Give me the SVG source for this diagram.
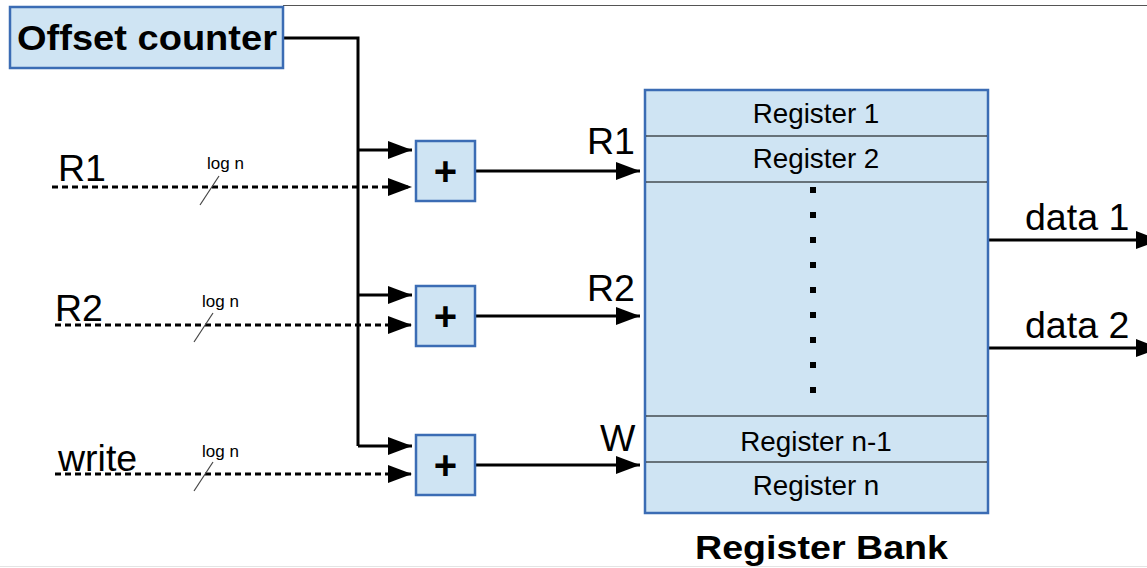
<svg xmlns="http://www.w3.org/2000/svg" width="1147" height="568" viewBox="0 0 1147 568">
<style>
.box{fill:#cfe4f3;stroke:#3b6cb4;stroke-width:2.5}
.ln{fill:none;stroke:#000;stroke-width:3}
.dash{fill:none;stroke:#000;stroke-width:3;stroke-dasharray:6 4}
.row{stroke:#000;stroke-width:1.2}
.t{font-family:"Liberation Sans",Arial,sans-serif;fill:#000}
.sl{stroke:#444;stroke-width:1.2}
.reg{font-size:27.8px}
.big{font-size:37.5px}
.plus{font-size:40px;font-weight:bold}
</style>
<defs>
<marker id="ah" markerWidth="8" markerHeight="6" refX="8" refY="3" orient="auto" markerUnits="strokeWidth">
<path d="M0,0 L8,3 L0,6 Z" fill="#000"/>
</marker>
</defs>
<rect width="1147" height="568" fill="#fff"/>
<line x1="283" y1="5.5" x2="1147" y2="5.5" stroke="#555" stroke-width="1.2"/>
<line x1="0" y1="566.5" x2="1147" y2="566.5" stroke="#e4e4e4" stroke-width="1"/>
<g id="connectors">
<polyline class="ln" points="283,38 358,38 358,446"/>
<line class="ln" x1="358" y1="150" x2="412" y2="150" marker-end="url(#ah)"/>
<line class="ln" x1="358" y1="295" x2="412" y2="295" marker-end="url(#ah)"/>
<polyline class="ln" points="358,446 412,446" marker-end="url(#ah)"/>
<line class="dash" x1="52" y1="187" x2="412" y2="187" marker-end="url(#ah)"/>
<line class="dash" x1="55" y1="325" x2="412" y2="325" marker-end="url(#ah)"/>
<line class="dash" x1="55" y1="474" x2="412" y2="474" marker-end="url(#ah)"/>
<line class="sl" x1="200" y1="205" x2="219" y2="176"/>
<line class="sl" x1="194" y1="342" x2="213" y2="313"/>
<line class="sl" x1="194" y1="491" x2="213" y2="462"/>
<line class="ln" x1="475" y1="171" x2="640" y2="171" marker-end="url(#ah)"/>
<line class="ln" x1="475" y1="316" x2="640" y2="316" marker-end="url(#ah)"/>
<line class="ln" x1="475" y1="465" x2="640" y2="465" marker-end="url(#ah)"/>
<line class="ln" x1="988" y1="240" x2="1160" y2="240" marker-end="url(#ah)"/>
<line class="ln" x1="988" y1="348" x2="1160" y2="348" marker-end="url(#ah)"/>
</g>
<g id="offset-counter">
<rect class="box" x="10" y="7" width="273" height="61"/>
<text class="t" x="17" y="50" font-size="35" font-weight="bold" textLength="260" lengthAdjust="spacingAndGlyphs">Offset counter</text>
</g>
<g id="labels">
<text class="t big" x="58" y="181">R1</text>
<text class="t big" x="55" y="321">R2</text>
<text class="t big" x="58" y="471">write</text>
<text class="t" x="207" y="169" font-size="17">log n</text>
<text class="t" x="202" y="307" font-size="17">log n</text>
<text class="t" x="202" y="457" font-size="17">log n</text>
<text class="t big" x="587" y="154">R1</text>
<text class="t big" x="587" y="301">R2</text>
<text class="t big" x="600" y="451">W</text>
<text class="t big" x="1025" y="230">data 1</text>
<text class="t big" x="1025" y="338">data 2</text>
</g>
<g id="adder1">
<rect class="box" x="416" y="141" width="59" height="60"/>
<text class="t plus" x="445.5" y="185" text-anchor="middle">+</text>
</g>
<g id="adder2">
<rect class="box" x="416" y="286" width="59" height="60"/>
<text class="t plus" x="445.5" y="330" text-anchor="middle">+</text>
</g>
<g id="adder3">
<rect class="box" x="416" y="435" width="59" height="60"/>
<text class="t plus" x="445.5" y="479" text-anchor="middle">+</text>
</g>
<g id="register-bank">
<rect class="box" x="645" y="90" width="343" height="423"/>
<line class="row" x1="646" y1="136" x2="987" y2="136"/>
<line class="row" x1="646" y1="182" x2="987" y2="182"/>
<line class="row" x1="646" y1="416" x2="987" y2="416"/>
<line class="row" x1="646" y1="462" x2="987" y2="462"/>
<text class="t reg" x="816" y="123" text-anchor="middle">Register 1</text>
<text class="t reg" x="816" y="168" text-anchor="middle">Register 2</text>
<text class="t reg" x="816" y="451" text-anchor="middle">Register n-1</text>
<text class="t reg" x="816" y="495" text-anchor="middle">Register n</text>
<g fill="#000">
<rect x="810" y="187" width="6" height="6"/>
<rect x="810" y="212" width="6" height="6"/>
<rect x="810" y="237" width="6" height="6"/>
<rect x="810" y="262" width="6" height="6"/>
<rect x="810" y="287" width="6" height="6"/>
<rect x="810" y="312" width="6" height="6"/>
<rect x="810" y="337" width="6" height="6"/>
<rect x="810" y="362" width="6" height="6"/>
<rect x="810" y="387" width="6" height="6"/>
</g>
<text class="t" x="695" y="559" font-size="34" font-weight="bold" textLength="253" lengthAdjust="spacingAndGlyphs">Register Bank</text>
</g>
</svg>
